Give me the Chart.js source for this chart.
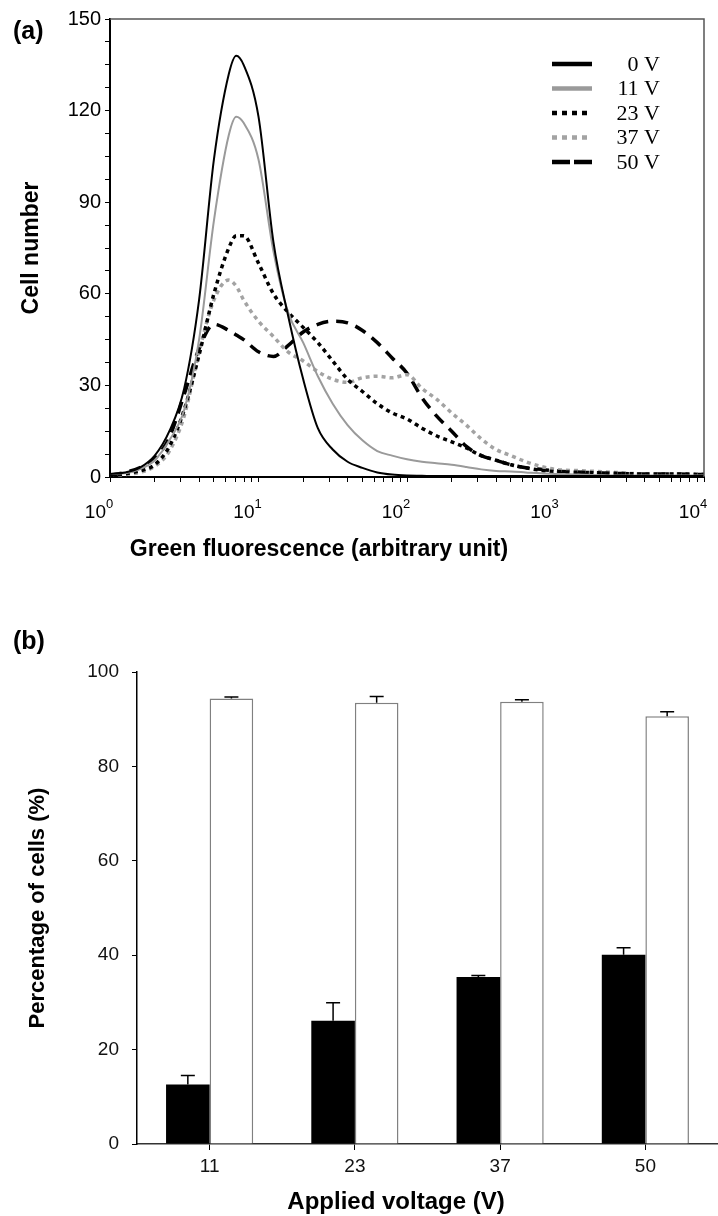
<!DOCTYPE html>
<html>
<head>
<meta charset="utf-8">
<script src="https://cdn.jsdelivr.net/npm/chart.js@4.4.1/dist/chart.umd.min.js"></script>
<style>
  body { margin: 0; background: #fff; }
  #page { position: relative; width: 718px; height: 1216px; overflow: hidden; font-family: "Liberation Sans", Arial, sans-serif; }
  .box { position: absolute; left: 0; width: 718px; }
  .txt { position: absolute; font-weight: bold; color: #000; white-space: nowrap; line-height: 1; }
</style>
</head>
<body>
<div id="page">
  <div class="box" style="top:0;height:600px"><canvas id="histChart"></canvas></div>
  <div class="box" style="top:600px;height:616px"><canvas id="barChart"></canvas></div>
  <div class="txt" style="left:13px;top:18px;font-size:25px">(a)</div>
  <div class="txt" style="left:319px;top:537px;font-size:23px;transform:translateX(-50%)">Green fluorescence (arbitrary unit)</div>
  <div class="txt" style="left:13px;top:628px;font-size:25px">(b)</div>
  <div class="txt" style="left:396px;top:1189px;font-size:24px;transform:translateX(-50%)">Applied voltage (V)</div>
</div>
<script>
// (a) histogram: fluorescence channel (x) and cell counts per applied voltage
const fluorescence = [1, 1.26, 1.58, 2, 2.51, 3.16, 3.98, 5.01, 6.31, 7.08, 7.94, 10, 12.6, 15.8, 20, 25.1, 31.6, 39.8, 50.1, 63.1, 79.4, 100, 126, 158, 200, 251, 316, 398, 501, 631, 794, 1000, 1585, 2512, 3981, 6310, 10000];
const cells0V  = [1, 1.5, 3, 7, 15, 29, 58, 104, 132, 138, 135, 118, 77, 53, 32, 16, 9, 5, 3, 1.5, 0.8, 0.5, 0.4, 0.3, 0.3, 0.3, 0.3, 0.3, 0.3, 0.3, 0.3, 0.3, 0.3, 0.3, 0.3, 0.3, 0.3];
const cells11V = [1, 1.2, 2.5, 5.5, 12, 22, 45, 84, 112, 118, 116, 104, 74, 54, 44, 33, 24, 17, 12, 8.5, 7, 5.8, 5, 4.5, 4, 3.3, 2.5, 2, 1.8, 1.5, 1.2, 1, 0.7, 0.5, 0.5, 0.5, 0.5];
const cells23V = [0.5, 1, 2, 4, 10, 22, 40, 60, 75, 79, 79, 70, 60, 54, 49, 44, 38, 32, 28, 24, 21, 19, 16, 13.5, 11.5, 9.5, 7, 5.5, 4, 3, 2.2, 1.8, 1.5, 1.2, 1, 1, 0.8];
const cells37V = [0.5, 0.8, 1.5, 3.5, 8.5, 20, 41, 58, 64.5, 62.5, 58, 51, 46, 41, 38, 34.5, 32, 31, 32.5, 33, 32.5, 33.5, 29, 25.5, 21, 17, 12.5, 9, 7, 5, 3.5, 2.5, 2, 1.5, 1, 1, 0.8];
const cells50V = [0.5, 1.5, 3, 6, 13, 27, 42, 50, 48, 46.5, 45, 41, 39.5, 43, 47.5, 50, 51, 50.5, 48, 44, 39, 34, 26, 20, 15, 10, 7, 5.5, 4, 3, 2.5, 2, 1.5, 1.2, 1, 1, 0.8];
const decadeTicks = [1, 10, 100, 1000, 10000];
const decadeExp = ['0', '1', '2', '3', '4'];

// (b) bars
const voltages = ['11', '23', '37', '50'];
const positive = [12.6, 26.1, 35.4, 40.1];
const positiveErr = [1.9, 3.8, 0.3, 1.5];
const viable = [94.4, 93.5, 93.7, 90.6];
const viableErr = [0.3, 1.3, 0.4, 1.0];

Chart.defaults.font.family = '"Liberation Sans", Arial, sans-serif';
Chart.defaults.color = '#000';

function points(series) {
  return fluorescence.map((x, i) => ({ x: x, y: series[i] }));
}

// minor + major log ticks, 1..9 in every decade
const logTicks = [];
decadeTicks.forEach(d => {
  for (let k = 1; k <= 9; k++) if (d * k <= 10000) logTicks.push(d * k);
});

const histDecor = {
  id: 'histDecor',
  afterDraw(chart) {
    const { ctx, chartArea: a, scales: { x } } = chart;
    ctx.save();
    // frame top + right
    ctx.strokeStyle = '#555';
    ctx.lineWidth = 1.5;
    ctx.beginPath();
    ctx.moveTo(a.left, a.top);
    ctx.lineTo(a.right, a.top);
    ctx.lineTo(a.right, a.bottom);
    ctx.stroke();

    // 10^n labels
    ctx.fillStyle = '#000';
    ctx.textBaseline = 'alphabetic';
    decadeTicks.forEach((v, n) => {
      const px = x.getPixelForValue(v);
      ctx.font = '19px "Liberation Sans", Arial, sans-serif';
      ctx.textAlign = 'right';
      ctx.fillText('10', px - 4, a.bottom + 41);
      ctx.font = '13px "Liberation Sans", Arial, sans-serif';
      ctx.textAlign = 'left';
      ctx.fillText(decadeExp[n], px - 4, a.bottom + 31);
    });

    // legend
    chart.data.datasets.forEach((ds, i) => {
      const y = a.top + 45 + i * 24.5;
      ctx.strokeStyle = ds.borderColor;
      ctx.lineWidth = 4.5;
      ctx.lineCap = 'butt';
      ctx.setLineDash(ds.legendDash);
      ctx.beginPath();
      ctx.moveTo(a.right - 152, y);
      ctx.lineTo(a.right - 112, y);
      ctx.stroke();
      ctx.setLineDash([]);
      ctx.font = '22px "Liberation Serif", "Times New Roman", serif';
      ctx.textAlign = 'right';
      ctx.textBaseline = 'middle';
      ctx.fillStyle = '#000';
      ctx.fillText(ds.label, a.right - 44, y + 1);
    });
    ctx.restore();
  }
};

new Chart(document.getElementById('histChart'), {
  type: 'line',
  data: {
    datasets: [
      { label: '0 V', data: points(cells0V), borderColor: '#000', borderWidth: 2, legendDash: [] },
      { label: '11 V', data: points(cells11V), borderColor: '#9a9a9a', borderWidth: 2, legendDash: [] },
      { label: '23 V', data: points(cells23V), borderColor: '#000', borderWidth: 3.5, borderDash: [4, 4], legendDash: [5, 5] },
      { label: '37 V', data: points(cells37V), borderColor: '#a3a3a3', borderWidth: 3.5, borderDash: [4, 4], legendDash: [5, 5] },
      { label: '50 V', data: points(cells50V), borderColor: '#000', borderWidth: 3.5, borderDash: [12, 8], legendDash: [18, 4] }
    ]
  },
  options: {
    responsive: true,
    maintainAspectRatio: false,
    animation: false,
    layout: { padding: { top: 19, right: 14, left: 0, bottom: 0 } },
    elements: { point: { radius: 0 }, line: { cubicInterpolationMode: 'monotone' } },
    plugins: { legend: { display: false }, tooltip: { enabled: false } },
    scales: {
      x: {
        type: 'logarithmic',
        min: 1,
        max: 10000,
        afterFit: s => { s.height = 123; },
        afterBuildTicks: s => { s.ticks = logTicks.map(v => ({ value: v })); },
        ticks: { autoSkip: false, maxRotation: 0, callback: () => '' },
        grid: { drawOnChartArea: false, tickLength: 5, color: '#000' },
        border: { color: '#000', width: 2 }
      },
      y: {
        min: 0,
        max: 150,
        afterFit: s => { s.width = 110; },
        ticks: {
          stepSize: 7.5,
          autoSkip: false,
          padding: 4,
          font: { size: 20 },
          color: '#000',
          callback: v => (v % 30 === 0 ? v : '')
        },
        grid: { drawOnChartArea: false, tickLength: 5, color: '#000' },
        border: { color: '#000', width: 2 },
        title: {
          display: true,
          text: 'Cell number',
          color: '#000',
          font: { size: 23, weight: 'bold' },
          padding: { top: 18, bottom: 0 }
        }
      }
    }
  },
  plugins: [histDecor]
});

// error bars (upper side only)
const errorBars = {
  id: 'errorBars',
  afterDatasetsDraw(chart) {
    const { ctx, scales: { y } } = chart;
    ctx.save();
    ctx.strokeStyle = '#000';
    ctx.lineWidth = 1.5;
    chart.data.datasets.forEach((ds, i) => {
      chart.getDatasetMeta(i).data.forEach((bar, j) => {
        const base = y.getPixelForValue(ds.data[j]);
        const top = y.getPixelForValue(ds.data[j] + ds.errors[j]);
        ctx.beginPath();
        ctx.moveTo(bar.x, base);
        ctx.lineTo(bar.x, top);
        ctx.moveTo(bar.x - 7, top);
        ctx.lineTo(bar.x + 7, top);
        ctx.stroke();
      });
    });
    ctx.restore();
  }
};

new Chart(document.getElementById('barChart'), {
  type: 'bar',
  data: {
    labels: voltages,
    datasets: [
      { label: 'Fluorescent cells', data: positive, errors: positiveErr, backgroundColor: '#000', borderWidth: 0 },
      { label: 'Viable cells', data: viable, errors: viableErr, backgroundColor: '#fff', borderColor: '#808080', borderWidth: 1.5 }
    ]
  },
  options: {
    responsive: true,
    maintainAspectRatio: false,
    animation: false,
    layout: { padding: { top: 72, right: 0, left: 0, bottom: 0 } },
    datasets: { bar: { categoryPercentage: 0.6, barPercentage: 1.0 } },
    plugins: { legend: { display: false }, tooltip: { enabled: false } },
    scales: {
      x: {
        afterFit: s => { s.height = 72; },
        ticks: { font: { size: 19 }, color: '#111', padding: 5 },
        grid: { offset: false, drawOnChartArea: false, tickLength: 6, color: '#000' },
        border: { color: '#333', width: 1.5 }
      },
      y: {
        min: 0,
        max: 100,
        afterFit: s => { s.width = 137; },
        ticks: { stepSize: 20, font: { size: 19 }, color: '#111', padding: 13 },
        grid: { drawOnChartArea: false, tickLength: 5, color: '#000' },
        border: { color: '#000', width: 1.5 },
        title: {
          display: true,
          text: 'Percentage of cells (%)',
          color: '#000',
          font: { size: 22, weight: 'bold' },
          padding: { top: 25, bottom: 0 }
        }
      }
    }
  },
  plugins: [errorBars]
});
</script>
</body>
</html>
